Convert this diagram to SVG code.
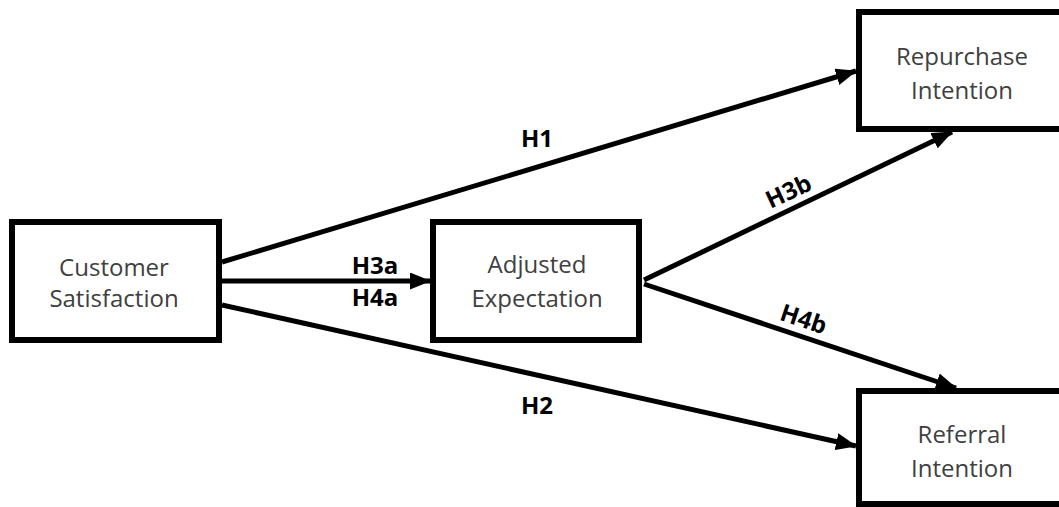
<svg xmlns="http://www.w3.org/2000/svg" width="1059" height="507" viewBox="0 0 1059 507">
  <style>
    .box { fill: #ffffff; stroke: #000000; stroke-width: 6; }
    .node-text { font-family: "Open Sans", "Noto Sans", sans-serif; font-size: 24px; fill: #404040; text-anchor: middle; }
    .edge { stroke: #000000; stroke-width: 5; fill: none; marker-end: url(#arrow); }
    .label { font-family: "Open Sans", "Noto Sans", sans-serif; font-size: 24px; font-weight: bold; fill: #000000; text-anchor: middle; }
  </style>
  <defs>
    <marker id="arrow" markerUnits="userSpaceOnUse" markerWidth="21" markerHeight="17" refX="20" refY="8.5" orient="auto">
      <path d="M0,0 L21,8.5 L0,17 Z" fill="#000000"/>
    </marker>
  </defs>
  <rect width="1059" height="507" fill="#ffffff"/>

  <g id="connectors">
    <line class="edge" x1="222" y1="262" x2="856" y2="71"/>
    <line class="edge" x1="222" y1="281" x2="430" y2="281"/>
    <line class="edge" x1="222" y1="305" x2="856" y2="446"/>
    <line class="edge" x1="644" y1="280" x2="952" y2="132"/>
    <line class="edge" x1="644" y1="284" x2="956" y2="388"/>
    <text class="label" x="537" y="147">H1</text>
    <text class="label" x="537" y="414">H2</text>
    <text class="label" x="375" y="274">H3a</text>
    <text class="label" x="375" y="306">H4a</text>
    <text class="label" transform="translate(792,199) rotate(-25)">H3b</text>
    <text class="label" transform="translate(801,327) rotate(18.5)">H4b</text>
  </g>

  <g id="customer-satisfaction">
    <rect class="box" x="12" y="222" width="207" height="118"/>
    <text class="node-text" x="114" y="276">Customer</text>
    <text class="node-text" x="114" y="307">Satisfaction</text>
  </g>

  <g id="adjusted-expectation">
    <rect class="box" x="433" y="222" width="206" height="118"/>
    <text class="node-text" x="537" y="273">Adjusted</text>
    <text class="node-text" x="537" y="307">Expectation</text>
  </g>

  <g id="repurchase-intention">
    <rect class="box" x="859" y="12" width="220" height="117"/>
    <text class="node-text" x="962" y="65">Repurchase</text>
    <text class="node-text" x="962" y="99">Intention</text>
  </g>

  <g id="referral-intention">
    <rect class="box" x="859" y="391" width="220" height="113"/>
    <text class="node-text" x="962" y="443">Referral</text>
    <text class="node-text" x="962" y="477">Intention</text>
  </g>
</svg>
